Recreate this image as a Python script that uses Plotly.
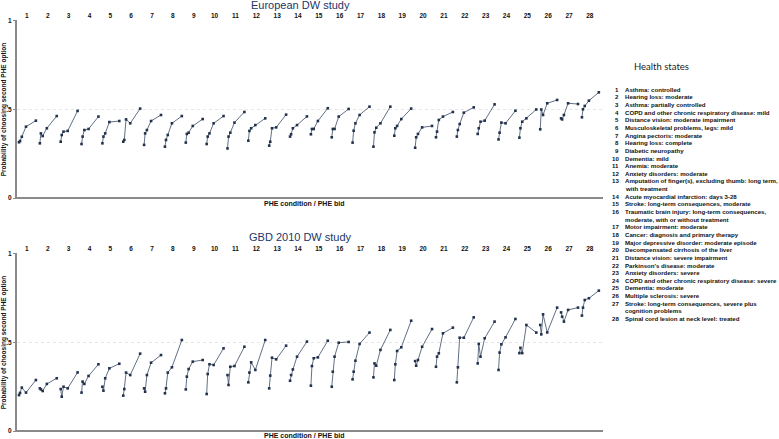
import plotly.graph_objects as go

W, H = 779, 439

conditions = list(range(1, 29))
# relative position of the five PHE bids inside each condition block
phe_bids = [0, 0.05, 0.135, 0.335, 0.81]

european = [
    [0.315, 0.322, 0.346, 0.403, 0.437],
    [0.309, 0.365, 0.350, 0.394, 0.463],
    [0.318, 0.356, 0.375, 0.379, 0.492],
    [0.305, 0.347, 0.384, 0.390, 0.460],
    [0.309, 0.347, 0.365, 0.429, 0.435],
    [0.318, 0.328, 0.444, 0.422, 0.505],
    [0.300, 0.365, 0.384, 0.435, 0.469],
    [0.290, 0.328, 0.356, 0.422, 0.463],
    [0.313, 0.362, 0.369, 0.407, 0.446],
    [0.305, 0.347, 0.365, 0.422, 0.463],
    [0.280, 0.347, 0.369, 0.426, 0.486],
    [0.324, 0.379, 0.394, 0.412, 0.450],
    [0.296, 0.318, 0.394, 0.399, 0.471],
    [0.347, 0.360, 0.394, 0.412, 0.461],
    [0.360, 0.390, 0.390, 0.435, 0.507],
    [0.343, 0.390, 0.390, 0.460, 0.503],
    [0.313, 0.380, 0.422, 0.469, 0.516],
    [0.290, 0.371, 0.397, 0.422, 0.516],
    [0.352, 0.394, 0.407, 0.446, 0.505],
    [0.284, 0.343, 0.362, 0.399, 0.407],
    [0.343, 0.375, 0.441, 0.460, 0.486],
    [0.347, 0.384, 0.418, 0.482, 0.512],
    [0.362, 0.394, 0.431, 0.437, 0.529],
    [0.331, 0.369, 0.426, 0.422, 0.493],
    [0.341, 0.394, 0.431, 0.450, 0.500],
    [0.388, 0.500, 0.469, 0.535, 0.554],
    [0.450, 0.444, 0.469, 0.535, 0.531],
    [0.456, 0.501, 0.520, 0.550, 0.597],
]

gbd = [
    [0.203, 0.215, 0.245, 0.217, 0.288],
    [0.241, 0.235, 0.226, 0.266, 0.298],
    [0.237, 0.194, 0.250, 0.241, 0.331],
    [0.217, 0.279, 0.266, 0.311, 0.377],
    [0.250, 0.228, 0.298, 0.354, 0.380],
    [0.200, 0.237, 0.330, 0.316, 0.437],
    [0.241, 0.222, 0.316, 0.386, 0.429],
    [0.213, 0.241, 0.330, 0.360, 0.514],
    [0.235, 0.307, 0.350, 0.392, 0.401],
    [0.209, 0.322, 0.377, 0.373, 0.467],
    [0.316, 0.260, 0.363, 0.367, 0.476],
    [0.275, 0.330, 0.388, 0.345, 0.514],
    [0.241, 0.313, 0.414, 0.405, 0.482],
    [0.284, 0.316, 0.348, 0.420, 0.505],
    [0.256, 0.367, 0.411, 0.416, 0.510],
    [0.250, 0.335, 0.420, 0.499, 0.503],
    [0.292, 0.335, 0.397, 0.492, 0.556],
    [0.303, 0.382, 0.369, 0.458, 0.571],
    [0.288, 0.377, 0.452, 0.473, 0.623],
    [0.395, 0.369, 0.401, 0.476, 0.576],
    [0.363, 0.420, 0.439, 0.552, 0.584],
    [0.275, 0.360, 0.527, 0.527, 0.642],
    [0.382, 0.492, 0.420, 0.524, 0.618],
    [0.345, 0.443, 0.490, 0.529, 0.633],
    [0.440, 0.470, 0.440, 0.599, 0.556],
    [0.599, 0.546, 0.659, 0.557, 0.697],
    [0.670, 0.646, 0.618, 0.684, 0.697],
    [0.652, 0.697, 0.740, 0.750, 0.793],
]

y_ticks = [0, 0.5, 1]
y_tick_text = ["0", ".5", "1"]

health_states = [
    "Asthma: controlled",
    "Hearing loss: moderate",
    "Asthma: partially controlled",
    "COPD and other chronic respiratory disease: mild",
    "Distance vision: moderate impairment",
    "Musculoskeletal problems, legs: mild",
    "Angina pectoris: moderate",
    "Hearing loss: complete",
    "Diabetic neuropathy",
    "Dementia: mild",
    "Anemia: moderate",
    "Anxiety disorders: moderate",
    "Amputation of finger(s), excluding thumb: long term,\nwith treatment",
    "Acute myocardial infarction: days 3-28",
    "Stroke: long-term consequences, moderate",
    "Traumatic brain injury: long-term consequences,\nmoderate, with or without treatment",
    "Motor impairment: moderate",
    "Cancer: diagnosis and primary therapy",
    "Major depressive disorder: moderate episode",
    "Decompensated cirrhosis of the liver",
    "Distance vision: severe impairment",
    "Parkinson's disease: moderate",
    "Anxiety disorders: severe",
    "COPD and other chronic respiratory disease: severe",
    "Dementia: moderate",
    "Multiple sclerosis: severe",
    "Stroke: long-term consequences, severe plus\ncognition problems",
    "Spinal cord lesion at neck level: treated",
]

panels = [("European DW study", european), ("GBD 2010 DW study", gbd)]

SMALL = dict(family="Liberation Sans, Arial", size=6.5, color="#111111", weight="bold")
LIST_FONT = dict(family="Liberation Sans, Arial", size=6.1, color="#111111", weight="bold")
LINE_C = "#3a4b66"
MARK_C = "#22324d"
AXIS_C = "#8a8a8a"


def px(x):
    return x / W


def py(y):
    return 1 - y / H


fig = go.Figure()

# pixel geometry of the two panels: (top of plot, bottom of plot)
panel_px = [(20, 199), (253, 432)]
x_left, x_right = 17, 603
title_y = [4.5, 237.5]
xtitle_y = [203.5, 435.5]

for i, (title, values) in enumerate(panels):
    xs, ys = [], []
    for c, vals in zip(conditions, values):
        for b, v in zip(phe_bids, vals):
            xs.append(c - 1 + b)
            ys.append(v)
        xs.append(None)
        ys.append(None)
    sfx = "" if i == 0 else "2"
    fig.add_trace(go.Scatter(
        x=xs, y=ys, mode="lines+markers",
        line=dict(color=LINE_C, width=0.8),
        marker=dict(symbol="square", size=2.6, color=MARK_C),
        xaxis="x" + sfx, yaxis="y" + sfx, showlegend=False,
        hoverinfo="skip",
    ))
    top, bot = panel_px[i]
    fig.update_layout(**{
        "xaxis" + sfx: dict(
            domain=[px(x_left), px(x_right)], range=[-0.096, 28.01],
            anchor="y" + sfx, side="top",
            tickvals=[c - 1 + 0.38 for c in conditions],
            ticktext=[str(c) for c in conditions],
            ticks="", showline=False, showgrid=False, zeroline=False,
            tickfont=SMALL, ticklabelstandoff=0, automargin=False,
        ),
        "yaxis" + sfx: dict(
            domain=[py(bot), py(top)], range=[-0.0056, 1.0056],
            anchor="x" + sfx,
            tickvals=y_ticks, ticktext=y_tick_text,
            ticks="outside", ticklen=2, tickcolor=AXIS_C, tickfont=SMALL,
            showline=True, linecolor=AXIS_C, linewidth=2,
            showgrid=True, gridcolor="#e6e6e6", griddash="dot", gridwidth=1,
            zeroline=True, zerolinecolor=AXIS_C, zerolinewidth=1.5,
            title=dict(text="Probability of choosing second PHE option",
                       font=SMALL, standoff=2),
            automargin=False,
        ),
    })
    fig.add_annotation(
        x=px(300.5), y=py(title_y[i]), xref="paper", yref="paper",
        text=title, showarrow=False, xanchor="center", yanchor="middle",
        font=dict(family="Liberation Sans, Arial", size=11, color="#22366b"),
    )
    fig.add_annotation(
        x=px(304), y=py(xtitle_y[i]), xref="paper", yref="paper",
        text="PHE condition / PHE bid", showarrow=False,
        xanchor="center", yanchor="middle",
        font=dict(family="Liberation Sans, Arial", size=7, color="#111111", weight="bold"),
    )

# Health states list
fig.add_annotation(
    x=px(661), y=py(66.5), xref="paper", yref="paper", text="Health states",
    showarrow=False, xanchor="center", yanchor="middle",
    font=dict(family="Lato", size=9.5, color="#222222"),
)
row = 0
for c, name in zip(conditions, health_states):
    for j, part in enumerate(name.split("\n")):
        yy = py(89.3 + row * 7.64)
        if j == 0:
            fig.add_annotation(x=px(620.5), y=yy, xref="paper", yref="paper",
                               text=str(c), showarrow=False, xanchor="right",
                               yanchor="middle", font=LIST_FONT)
        fig.add_annotation(x=px(622.5), y=yy, xref="paper", yref="paper",
                           text=part, showarrow=False, xanchor="left",
                           yanchor="middle", font=LIST_FONT)
        row += 1

fig.update_layout(
    width=W, height=H, margin=dict(l=0, r=0, t=0, b=0),
    paper_bgcolor="white", plot_bgcolor="white",
    font=dict(family="Liberation Sans, Arial"),
)

fig.write_html("out.html", config={"displayModeBar": False},
               post_script="document.body.style.margin='0px';")
